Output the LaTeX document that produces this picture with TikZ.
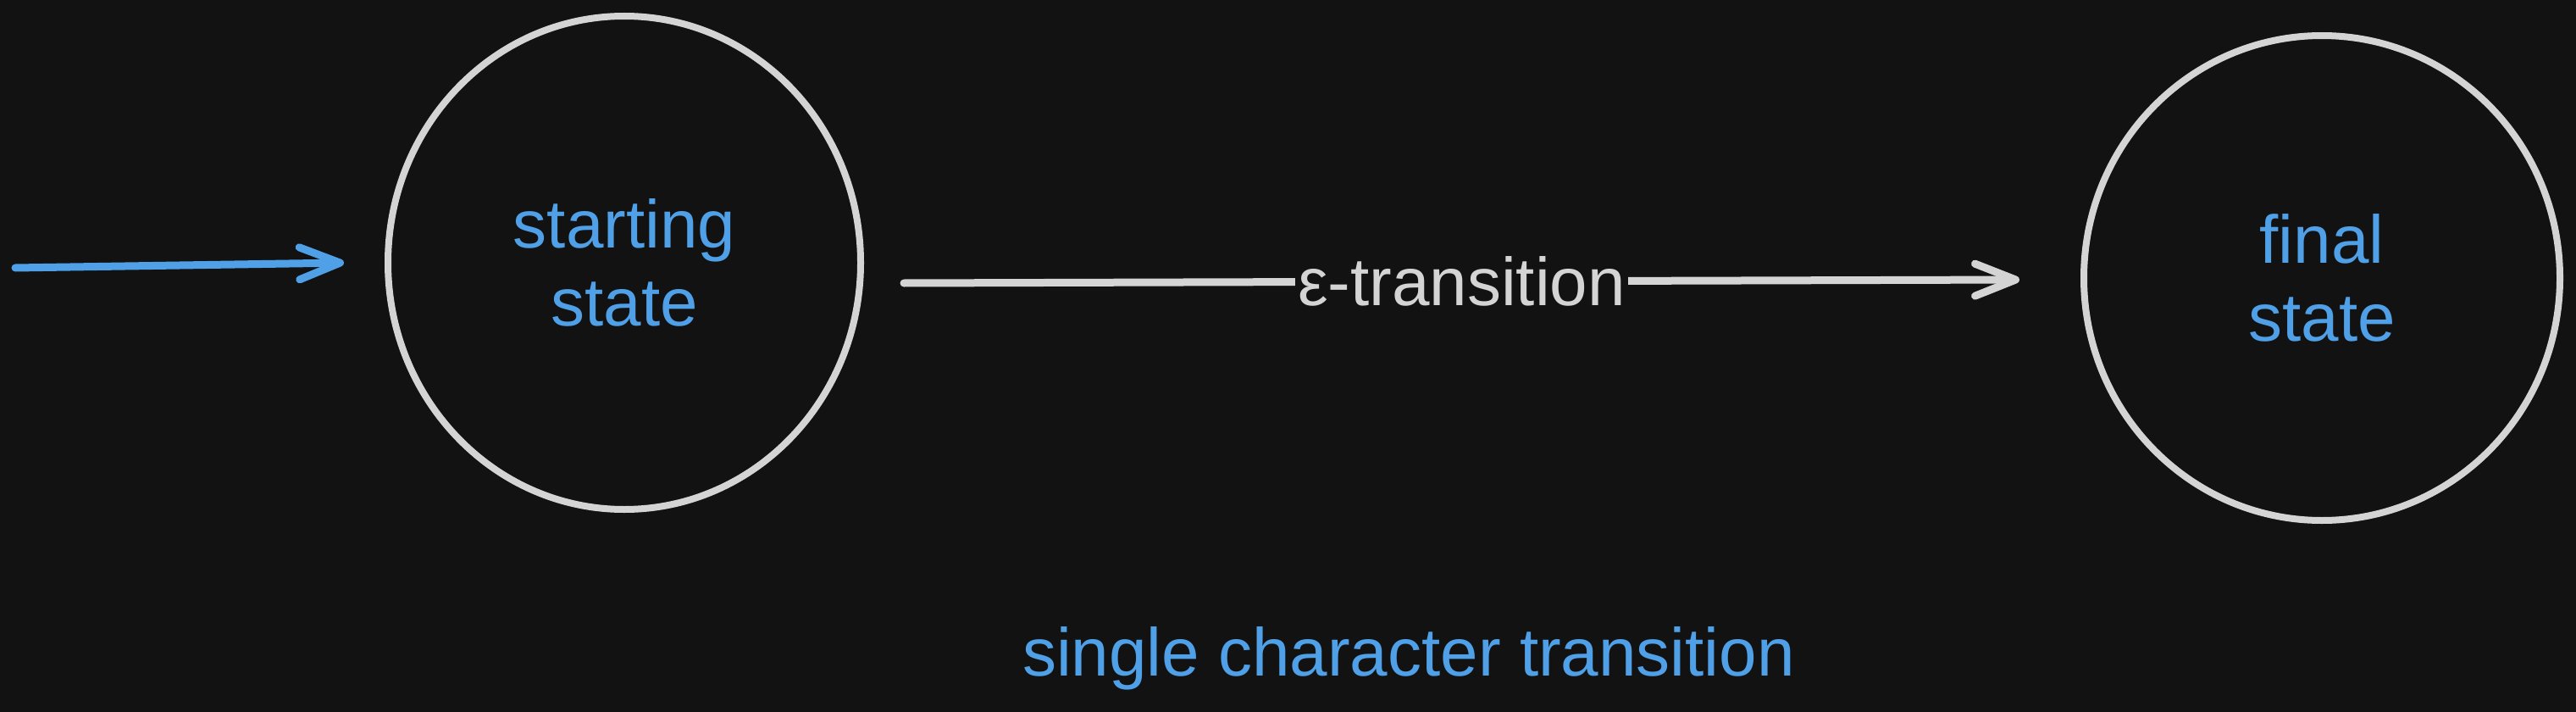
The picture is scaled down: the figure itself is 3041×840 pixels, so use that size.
\documentclass[tikz,border=0pt]{standalone}
\usepackage{fontspec}
\setmainfont{Liberation Sans}
\usetikzlibrary{arrows.meta,shapes.geometric,calc}
\definecolor{bg}{HTML}{121212}
\definecolor{ink}{HTML}{D4D4D4}
\definecolor{blu}{HTML}{4FA0E6}
\begin{document}
\begin{tikzpicture}[x=0.5pt,y=-0.5pt,
  state/.style={ellipse, draw=ink, line width=4pt, text=blu, align=center,
    font=\fontsize{40pt}{46pt}\selectfont, inner sep=0pt},
  edge/.style={line width=4.5pt, line cap=round,
    -{Straight Barb[length=24pt,width=19pt,round]}},
  lab/.style={fill=bg, text=ink, inner sep=1.5pt, font=\fontsize{40pt}{46pt}\selectfont},
  caption/.style={text=blu, font=\fontsize{40pt}{46pt}\selectfont, anchor=base}
]
\fill[bg] (0,0) rectangle (3041,840);
\useasboundingbox (0,0) rectangle (3041,840);
\node[state, minimum width=279pt, minimum height=291pt] (s) at (737,310) {starting\\state};
\node[state, minimum width=281pt, minimum height=286pt] (f) at (2741,328) {final\\state};
\coordinate (in) at (18,316);
\draw[edge, draw=blu] (in) -- ($(s.west)+(-48,0)$);
\draw[edge, draw=ink] ($(s.east)+(47,24)$) -- node[lab] (eps) {ε-transition} ($(f.west)+(-72,2)$);
\node[caption] (cap) at (1663,797) {single character transition};
\end{tikzpicture}
\end{document}
